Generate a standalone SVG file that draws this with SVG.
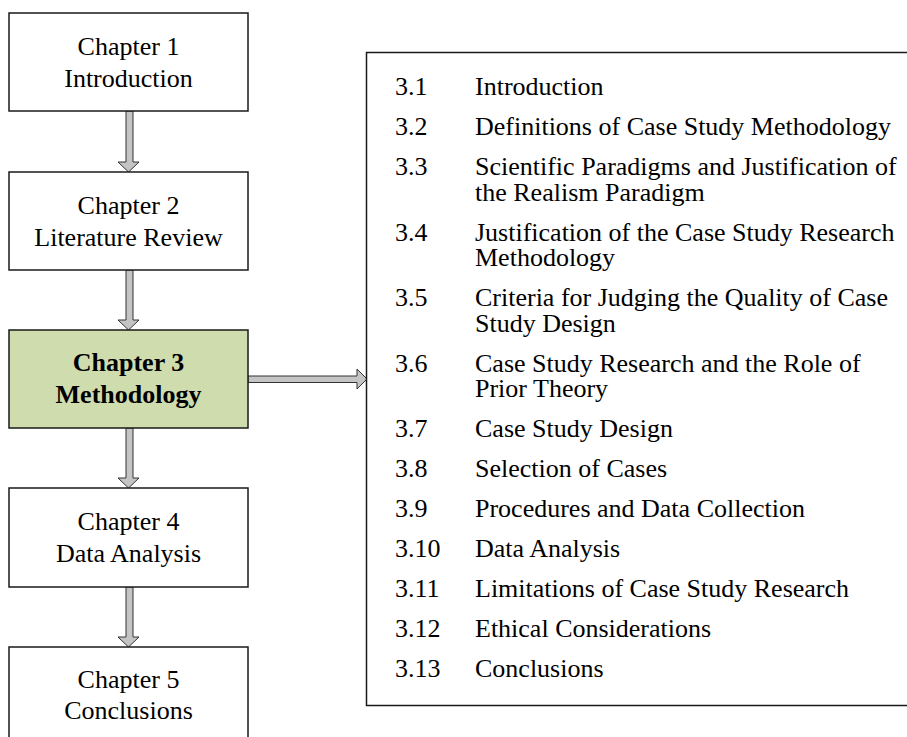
<svg xmlns="http://www.w3.org/2000/svg" width="907" height="737" viewBox="0 0 907 737">
<style>
.box{fill:#ffffff;stroke:#1a1a1a;stroke-width:1.5}
.hl{fill:#CFDDAE}
.t{font-family:"Liberation Serif","Times New Roman",serif;font-size:26px;fill:#000}
.c{text-anchor:middle}
.b{font-weight:bold}
.arr{fill:#C4C4C4;stroke:#333;stroke-width:1}
</style>
<rect width="907" height="737" fill="#ffffff"/>
<g id="connectors">
<path class="arr" d="M126,111 V162 H118 L128.5,172 L139,162 H133 V111 Z"/>
<path class="arr" d="M126,270 V320 H118 L128.5,330 L139,320 H133 V270 Z"/>
<path class="arr" d="M126,428 V478 H118 L128.5,488 L139,478 H133 V428 Z"/>
<path class="arr" d="M126,587 V637 H118 L128.5,647 L139,637 H133 V587 Z"/>
<path class="arr" d="M248,376 H357 V369 L367,379 L357,389 V382.5 H248 Z"/>
</g>
<g id="ch1">
<rect class="box" x="9" y="13" width="239" height="98"/>
<text class="t c" x="128.5" y="55">Chapter 1</text>
<text class="t c" x="128.5" y="87">Introduction</text>
</g>
<g id="ch2">
<rect class="box" x="9" y="172" width="239" height="98"/>
<text class="t c" x="128.5" y="214">Chapter 2</text>
<text class="t c" x="128.5" y="246">Literature Review</text>
</g>
<g id="ch3">
<rect class="box hl" x="9" y="330" width="239" height="98"/>
<text class="t c b" x="128.5" y="371">Chapter 3</text>
<text class="t c b" x="128.5" y="403">Methodology</text>
</g>
<g id="ch4">
<rect class="box" x="9" y="488" width="239" height="99"/>
<text class="t c" x="128.5" y="530">Chapter 4</text>
<text class="t c" x="128.5" y="562">Data Analysis</text>
</g>
<g id="ch5">
<rect class="box" x="9" y="647" width="239" height="110"/>
<text class="t c" x="128.5" y="688">Chapter 5</text>
<text class="t c" x="128.5" y="719">Conclusions</text>
</g>
<g id="sections">
<rect class="box" x="366.5" y="52.5" width="580" height="653"/>
<text class="t" x="395" y="95">3.1</text><text class="t" x="475" y="95">Introduction</text>
<text class="t" x="395" y="135">3.2</text><text class="t" x="475" y="135">Definitions of Case Study Methodology</text>
<text class="t" x="395" y="175">3.3</text><text class="t" x="475" y="175">Scientific Paradigms and Justification of</text>
<text class="t" x="475" y="200.5">the Realism Paradigm</text>
<text class="t" x="395" y="240.5">3.4</text><text class="t" x="475" y="240.5">Justification of the Case Study Research</text>
<text class="t" x="475" y="266">Methodology</text>
<text class="t" x="395" y="306">3.5</text><text class="t" x="475" y="306">Criteria for Judging the Quality of Case</text>
<text class="t" x="475" y="331.5">Study Design</text>
<text class="t" x="395" y="371.5">3.6</text><text class="t" x="475" y="371.5">Case Study Research and the Role of</text>
<text class="t" x="475" y="397">Prior Theory</text>
<text class="t" x="395" y="437">3.7</text><text class="t" x="475" y="437">Case Study Design</text>
<text class="t" x="395" y="477">3.8</text><text class="t" x="475" y="477">Selection of Cases</text>
<text class="t" x="395" y="517">3.9</text><text class="t" x="475" y="517">Procedures and Data Collection</text>
<text class="t" x="395" y="557">3.10</text><text class="t" x="475" y="557">Data Analysis</text>
<text class="t" x="395" y="597">3.11</text><text class="t" x="475" y="597">Limitations of Case Study Research</text>
<text class="t" x="395" y="637">3.12</text><text class="t" x="475" y="637">Ethical Considerations</text>
<text class="t" x="395" y="677">3.13</text><text class="t" x="475" y="677">Conclusions</text>
</g>
</svg>
